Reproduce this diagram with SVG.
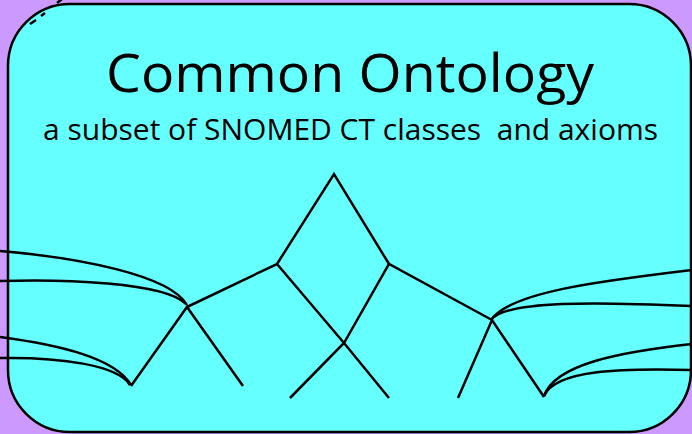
<svg xmlns="http://www.w3.org/2000/svg" width="692" height="434" viewBox="0 0 692 434">
<style>
.ln{fill:none;stroke:#000;stroke-width:2.5;stroke-linecap:butt;stroke-linejoin:miter}
.t{font-family:"Open Sans","Liberation Sans",sans-serif;fill:#000;text-anchor:middle;white-space:pre}
</style>
<rect x="0" y="0" width="692" height="434" fill="#CC99FF"/>
<g id="box">
<rect x="8" y="4" width="683" height="428" rx="62" ry="62" fill="#66FFFF" stroke="#000" stroke-width="2.5"/>
<path class="ln" d="M57 3 L62 -1 M30 24 L36 20 M41 16 L45 13" stroke-width="1.5"/>
</g>
<g id="title">
<text class="t" x="350" y="92" font-size="53" textLength="488" lengthAdjust="spacingAndGlyphs">Common Ontology</text>
<text class="t" x="350.5" y="140" font-size="29.5" xml:space="preserve" textLength="615" lengthAdjust="spacingAndGlyphs">a subset of SNOMED CT classes  and axioms</text>
</g>
<g id="connectors">
<polyline class="ln" points="277,264 334,174 389,264"/>
<polyline class="ln" points="187,307 277,264 344,343 389,398"/>
<polyline class="ln" points="492,320 389,264 344,343 290,398"/>
<polyline class="ln" points="131,386 187,307 243,386"/>
<polyline class="ln" points="458,398 492,320 544,397"/>
<path class="ln" d="M0 251 C80 258 170 275 187 305"/>
<path class="ln" d="M0 281 C60 279 165 282 186 304"/>
<path class="ln" d="M0 337 C60 345 115 358 131 385"/>
<path class="ln" d="M0 358 C60 357 118 365 130 385"/>
<path class="ln" d="M692 270 C600 281 510 292 491 320"/>
<path class="ln" d="M692 306 C600 302 505 300 491 320"/>
<path class="ln" d="M692 344 C620 352 555 364 544 396"/>
<path class="ln" d="M692 370 C620 368 555 370 544 396"/>
</g>
</svg>
